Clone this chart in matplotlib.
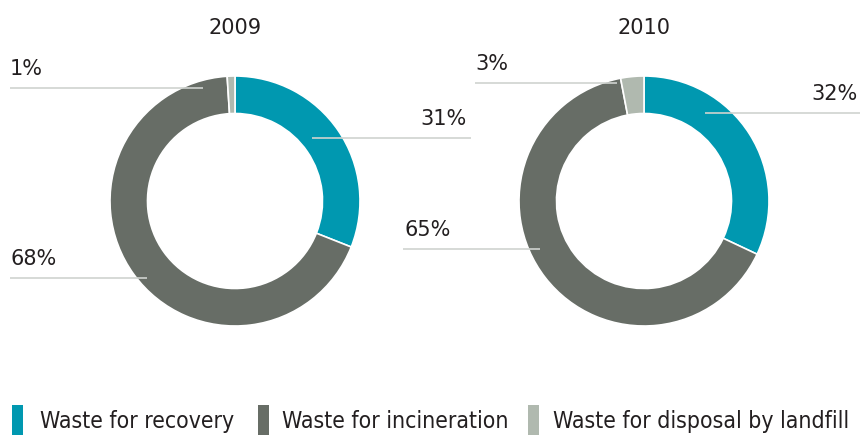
import matplotlib.pyplot as plt
from matplotlib.patches import Rectangle

# data
years = ['2009', '2010']
categories = ['Waste for recovery', 'Waste for incineration', 'Waste for disposal by landfill']
recovery = [31, 32]
incineration = [68, 65]
landfill = [1, 3]
colors = ['#0098b0', '#676d66', '#b0b9af']

W, H = 860, 436
fig = plt.figure(figsize=(W / 100, H / 100), dpi=100)
txt = '#231f20'
line_c = '#cfd3cf'

# donut centres (pixels from top-left) and radius
centres = [(235, 201), (644, 201)]
R = 125

# label layout: (text x, line y, line x0, line x1, align) per wedge
label_layout = [
    [(467, 138, 312, 471, 'right'), (10, 278, 10, 147, 'left'), (10, 88, 10, 203, 'left')],
    [(858, 113, 705, 860, 'right'), (405, 249, 403, 540, 'left'), (475, 83, 475, 617, 'left')],
]

for i, year in enumerate(years):
    cx, cy = centres[i]
    ax = fig.add_axes([(cx - R) / W, (H - cy - R) / H, 2 * R / W, 2 * R / H])
    vals = [recovery[i], incineration[i], landfill[i]]
    ax.pie(vals, colors=colors, startangle=90, counterclock=False, radius=1,
           wedgeprops=dict(width=0.3, edgecolor='white', linewidth=1.2))
    ax.set_xlim(-1, 1)
    ax.set_ylim(-1, 1)
    ax.set_aspect('auto')
    ax.axis('off')
    fig.text(cx / W, 1 - 28 / H, year, ha='center', va='center', fontsize=15, color=txt)

# overlay for leader lines and labels, in pixel coordinates
ov = fig.add_axes([0, 0, 1, 1])
ov.set_xlim(0, W)
ov.set_ylim(H, 0)
ov.axis('off')
for i in range(len(years)):
    vals = [recovery[i], incineration[i], landfill[i]]
    for v, (tx, ly, x0, x1, ha) in zip(vals, label_layout[i]):
        ov.plot([x0, x1], [ly, ly], color=line_c, lw=1.2, solid_capstyle='butt')
        ov.text(tx, ly - 9, f'{v}%', ha=ha, va='bottom', fontsize=15, color=txt)

# legend
leg_x = [(12, 40), (258, 282), (528, 553)]
for (px, tx), name, c in zip(leg_x, categories, colors):
    ov.add_patch(Rectangle((px, 405), 11, 30, color=c, lw=0))
    ov.text(tx, 421, name, ha='left', va='center', fontsize=16.5, color=txt,
            fontstretch='condensed')

fig.savefig('out.png', dpi=100, facecolor='white')
